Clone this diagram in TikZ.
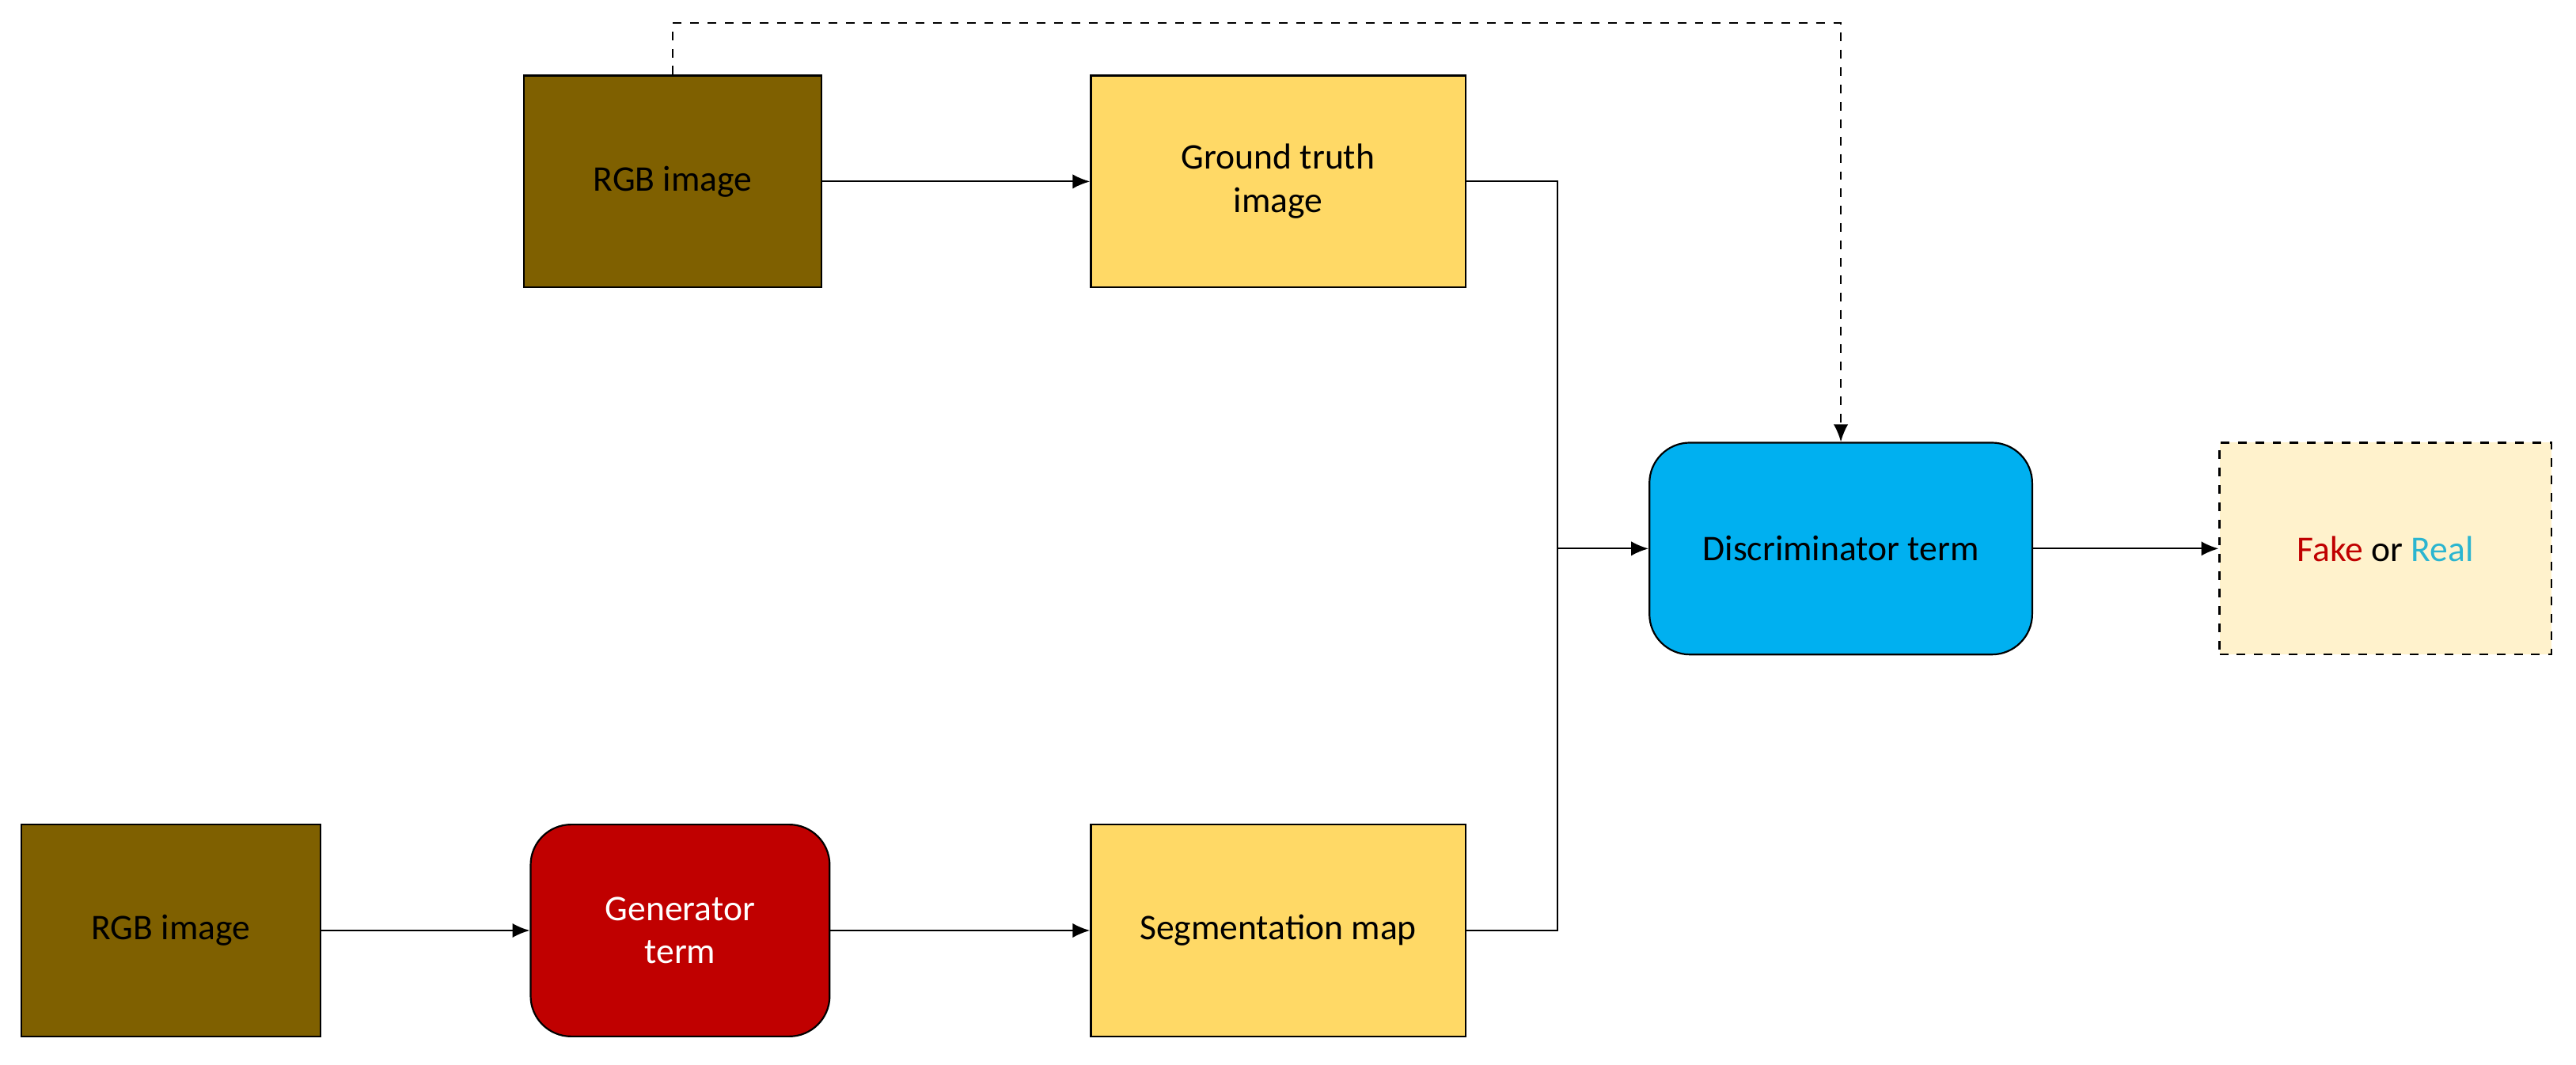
\documentclass[tikz,border=0pt]{standalone}
\usepackage{fontspec}
\setmainfont{Carlito}
\usetikzlibrary{arrows.meta}
\definecolor{brn}{HTML}{7F6000}
\definecolor{ylw}{HTML}{FFD966}
\definecolor{gred}{HTML}{C00000}
\definecolor{dblue}{HTML}{00B0F0}
\definecolor{cream}{HTML}{FFF2CC}
\definecolor{fake}{HTML}{C00000}
\definecolor{real}{HTML}{2BB5D0}
\begin{document}
\begin{tikzpicture}[x=0.02cm,y=-0.02cm,
  box/.style={draw=black,line width=0.6pt,minimum width=#1*0.02cm,minimum height=2.58cm,align=center,font=\fontsize{12.5}{15}\selectfont,inner sep=2pt},
  arr/.style={-{Latex[length=6pt,width=5pt]},line width=0.6pt}]
\useasboundingbox (0,0) rectangle (1568,648);
\node[box=181,fill=brn] (rgb1) at (409.5,110.5) {RGB image};
\node[box=228,fill=ylw] (gt) at (778,110.5) {Ground truth\\image};
\node[box=182,fill=brn] (rgb2) at (104,566.5) {RGB image};
\node[box=182,fill=gred,text=white,rounded corners=14pt] (gen) at (414,566.5) {Generator\\term};
\node[box=228,fill=ylw] (seg) at (778,566.5) {Segmentation map};
\node[box=233,fill=dblue,rounded corners=14pt] (disc) at (1120.5,334) {Discriminator term};
\node[box=202,fill=cream,dashed] (out) at (1452,334) {\textcolor{fake}{Fake} or \textcolor{real}{Real}};
\coordinate (j) at (948,334);
\draw[arr] (rgb1) -- (gt);
\draw[arr] (rgb2) -- (gen);
\draw[arr] (gen) -- (seg);
\draw[line width=0.6pt] (gt.east) -| (j);
\draw[line width=0.6pt] (seg.east) -| (j);
\draw[arr] (j) -- (disc.west);
\draw[arr] (disc) -- (out);
\draw[arr,dashed] (rgb1.north) -- (409.5,14) -| (disc.north);
\end{tikzpicture}
\end{document}
